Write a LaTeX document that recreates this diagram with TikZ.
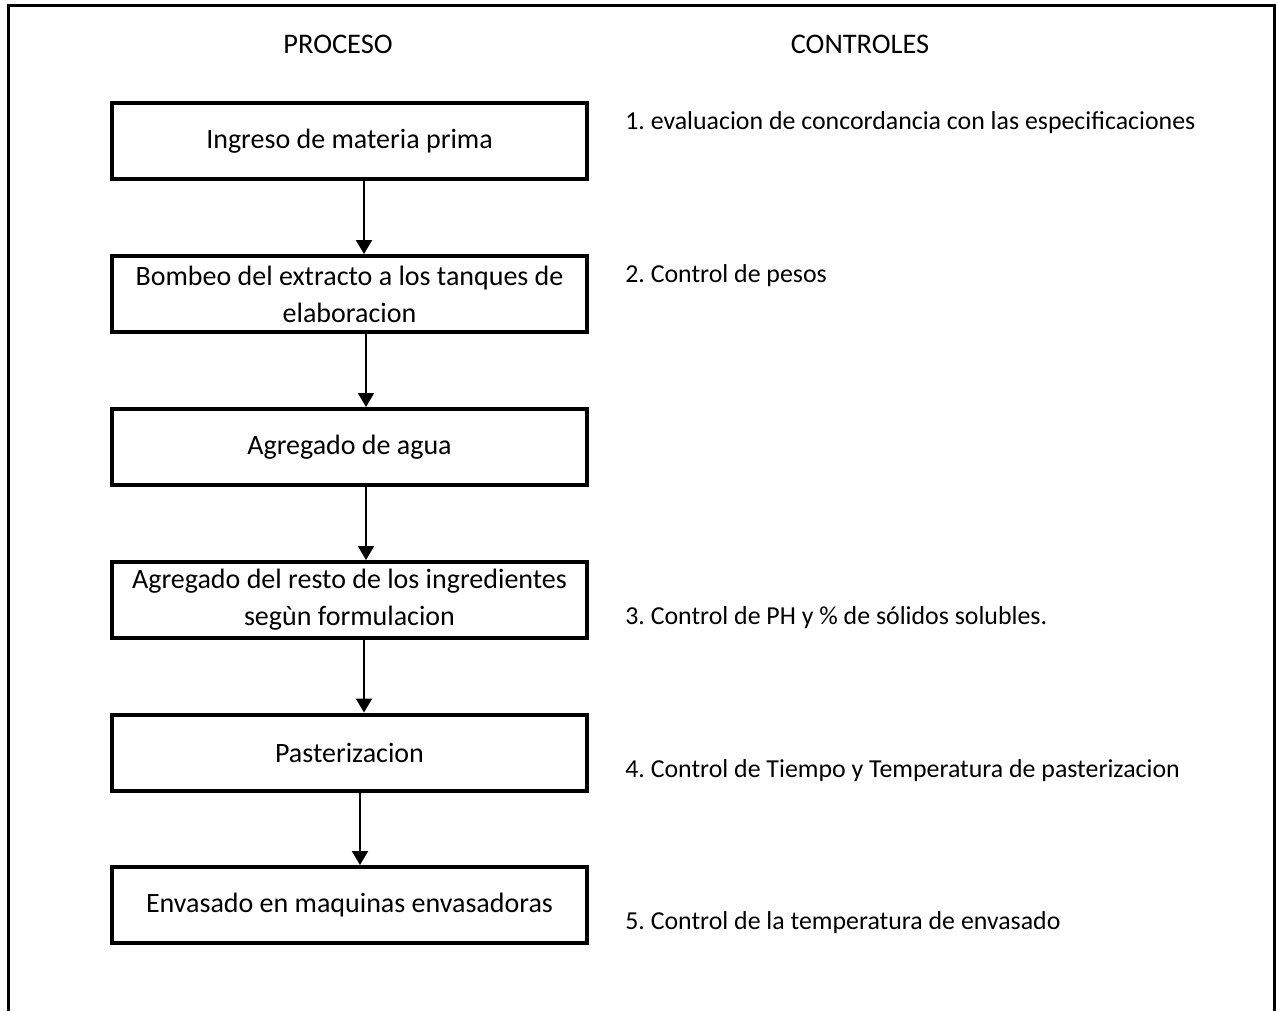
\documentclass[tikz,border=0pt]{standalone}
\usepackage{fontspec}
\setmainfont{Carlito}
\usetikzlibrary{arrows.meta}
\frenchspacing
\tikzset{
  box/.style={draw, line width=3pt, rectangle, inner sep=0pt,
    minimum width=356.25pt, minimum height=57pt, align=center,
    font=\fontsize{21pt}{27.75pt}\selectfont},
  arr/.style={line width=1.5pt, -{Triangle[width=12pt,length=10.5pt]}},
  ctrl/.style={anchor=west, inner sep=0pt, font=\fontsize{19.4pt}{26pt}\selectfont},
  head/.style={inner sep=0pt, font=\fontsize{21.3pt}{27.75pt}\selectfont},
  frame/.style={line width=2.2pt}
}
\begin{document}
\frenchspacing
\begin{tikzpicture}[x=0.75pt, y=-0.75pt]
\useasboundingbox (0,0) rectangle (1276,1011);
\fill[white] (0,0) rectangle (1276,1011);
% frame
\coordinate (fbl) at (8.5,1011);
\coordinate (ftl) at (8.5,5.5);
\coordinate (ftr) at (1274.5,5.5);
\coordinate (fbr) at (1274.5,1011);
\draw[frame] (fbl) -- (ftl) -- (ftr) -- (fbr);
% headers
\node[head] (hp) at (338,44) {PROCESO};
\node[head] (hc) at (860,44) {CONTROLES};
% process boxes
\node[box] (b1) at (349.5,141) {Ingreso de materia prima};
\node[box] (b2) at (349.5,294) {Bombeo del extracto a los tanques de\\elaboracion};
\node[box] (b3) at (349.5,447) {Agregado de agua};
\node[box] (b4) at (349.5,600) {Agregado del resto de los ingredientes\\segùn formulacion};
\node[box] (b5) at (349.5,752.5) {Pasterizacion};
\node[box] (b6) at (349.5,905) {Envasado en maquinas envasadoras};
% arrows
\draw[arr] (364,0 |- b1.south) -- (364,0 |- b2.north);
\draw[arr] (366,0 |- b2.south) -- (366,0 |- b3.north);
\draw[arr] (366,0 |- b3.south) -- (366,0 |- b4.north);
\draw[arr] (364,0 |- b4.south) -- (364,0 |- b5.north);
\draw[arr] (360,0 |- b5.south) -- (360,0 |- b6.north);
% controls
\node[ctrl] (c1) at (625,123) {1. evaluacion de concordancia con las especificaciones};
\node[ctrl] (c2) at (625,276) {2. Control de pesos};
\node[ctrl] (c3) at (625,618) {3. Control de PH y \% de sólidos solubles.};
\node[ctrl] (c4) at (625,771) {4. Control de Tiempo y Temperatura de pasterizacion};
\node[ctrl] (c5) at (625,923) {5. Control de la temperatura de envasado};
\end{tikzpicture}
\end{document}
